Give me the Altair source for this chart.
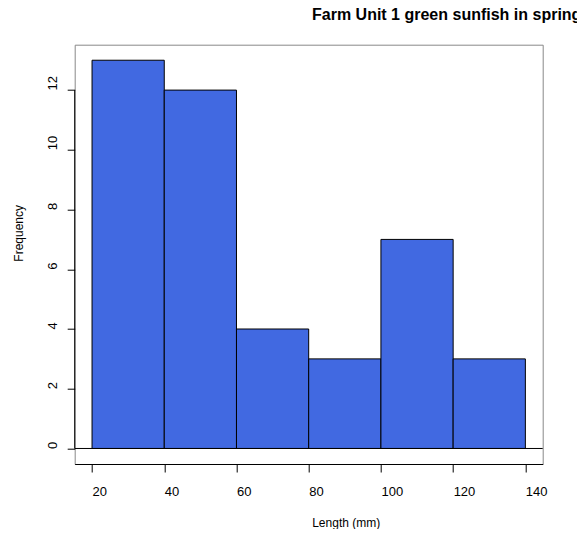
import altair as alt
import pandas as pd

# ---- data ----
bin_start = [20, 40, 60, 80, 100, 120]
bin_end = [40, 60, 80, 100, 120, 140]
counts = [13, 12, 4, 3, 7, 3]
x_ticks = [20, 40, 60, 80, 100, 120, 140]
y_ticks = [0, 2, 4, 6, 8, 10, 12]
title_text = "Farm Unit 1 green sunfish in spring"
x_title = "Length (mm)"
y_title = "Frequency"

df = pd.DataFrame({"start": bin_start, "end": bin_end, "count": counts})

W, H = 468, 419.3
FONT = "Liberation Sans"

xscale = alt.Scale(domain=[15.2, 144.8], nice=False, zero=False)
yscale = alt.Scale(domain=[-0.52, 13.52], nice=False, zero=False)

x_axis = alt.Axis(values=x_ticks, title=x_title, grid=False,
                  domain=True, domainColor="black", domainWidth=1,
                  tickColor="black", tickSize=8, tickWidth=1,
                  labelAlign="left", labelBaseline="alphabetic",
                  labelPadding=23, labelFontSize=13, labelFont=FONT,
                  labelColor="black", labelFlush=False,
                  titleX=237, titleY=62, titleAlign="left",
                  titleBaseline="alphabetic", titleFontSize=12,
                  titleFont=FONT, titleFontWeight="normal",
                  titleColor="black")

y_axis = alt.Axis(values=y_ticks, title=y_title, grid=False,
                  domain=False,
                  tickColor="black", tickSize=7.5, tickWidth=1,
                  labelAngle=270, labelAlign="left",
                  labelBaseline="alphabetic", labelPadding=10.5,
                  labelFontSize=13, labelFont=FONT, labelColor="black",
                  labelFlush=False, labelOverlap=False,
                  titleAngle=270, titleX=-52.2, titleY=216.5,
                  titleAlign="left", titleBaseline="alphabetic",
                  titleFontSize=12, titleFont=FONT,
                  titleFontWeight="normal", titleColor="black")

bars = alt.Chart(df).mark_rect(fill="#4169E1", stroke="black", strokeWidth=1).encode(
    x=alt.X("start:Q", scale=xscale, axis=x_axis),
    x2="end:Q",
    y=alt.Y("count:Q", scale=yscale, axis=y_axis),
    y2=alt.datum(0),
)

zero_line = alt.Chart(pd.DataFrame({"count": [0]})).mark_rule(color="black", strokeWidth=1).encode(
    y=alt.Y("count:Q", scale=yscale, axis=y_axis),
    x=alt.value(0),
    x2=alt.value(W),
)

y_axis_line = alt.Chart(pd.DataFrame({"count": [y_ticks[0]], "count_end": [y_ticks[-1]]})).mark_rule(
    color="black", strokeWidth=1
).encode(
    x=alt.value(0),
    y=alt.Y("count:Q", scale=yscale, axis=y_axis),
    y2="count_end:Q",
)

title = alt.Chart(pd.DataFrame({"t": [title_text]})).mark_text(
    align="left", baseline="alphabetic", fontSize=16, fontWeight="bold",
    font=FONT, color="black"
).encode(text="t:N", x=alt.value(237.3), y=alt.value(-25.2))

chart = alt.layer(bars, zero_line, y_axis_line, title).properties(
    width=W, height=H,
    autosize=alt.AutoSizeParams(type="none"),
    padding={"left": 66.7, "top": 36.7, "right": 34.3, "bottom": 65},
    background="white",
).configure_view(stroke="#888888", strokeWidth=1)

chart.save("out.html", embed_options={"renderer": "svg", "actions": False})
